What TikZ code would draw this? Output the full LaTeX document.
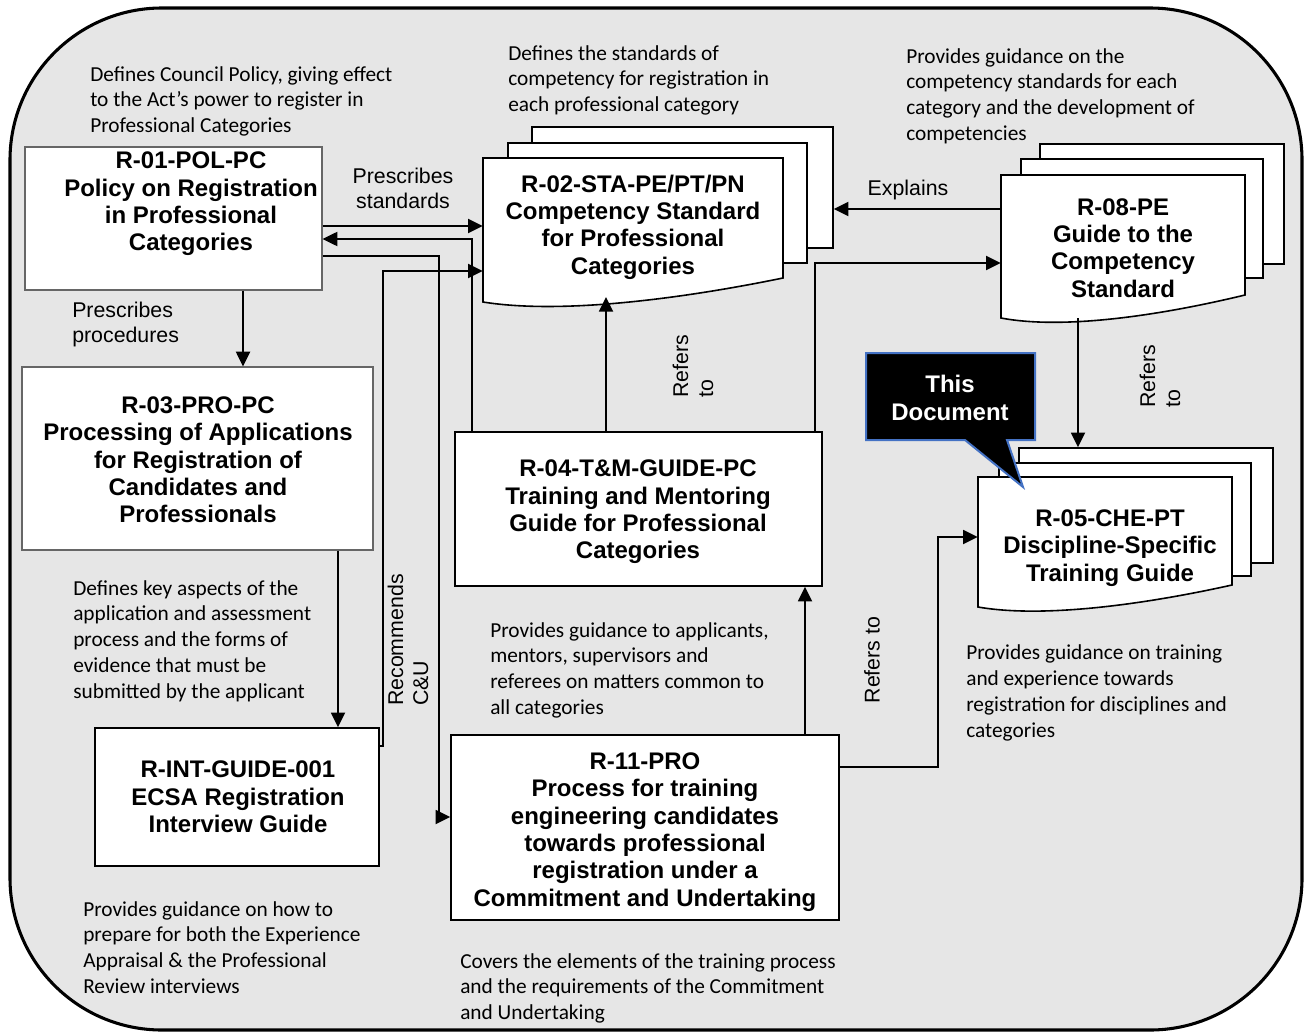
\documentclass[tikz,border=0pt]{standalone}
\usepackage{fontspec}
\setmainfont{Liberation Sans}
\newfontfamily\descfont{Carlito}
\usetikzlibrary{arrows.meta,fit,calc}
\definecolor{bggray}{RGB}{230,230,230}
\definecolor{callblue}{RGB}{68,114,196}
\tikzset{
  desc/.style={font=\descfont\fontsize{16}{19.4}\selectfont, align=left, anchor=north west, inner sep=0pt},
  lbl/.style={font=\fontsize{16}{18.75}\selectfont, inner sep=0pt},
  ttl/.style={font=\fontsize{18}{20.5}\selectfont\bfseries, align=center, inner sep=0pt},
  box/.style={draw=black, line width=1.1pt, fill=white, inner sep=0pt},
  graybox/.style={draw=black!60, line width=0.9pt, fill=white, inner sep=0pt},
  docline/.style={draw=black, line width=1.2pt, fill=white, inner sep=0pt},
  arr/.style={line width=1.4pt, -{Triangle[length=11pt,width=10.5pt]}},
}
\newcommand\mydocshape[5]{%
  \pgfmathsetmacro\mydw{#3-#1}%
  \pgfmathsetmacro\mydd{#4-#5}%
  \path[docline] (#1,#2) -- (#3,#2) -- (#3,#5) .. controls ({#3-0.343*\mydw},{#4-0.12*\mydd}) and ({#1+0.257*\mydw},{#4+0.52*\mydd}) .. (#1,#4) -- cycle;
}
\begin{document}
\begin{tikzpicture}[x=0.75pt,y=-0.75pt]
\useasboundingbox (0,0) rectangle (1308,1034);
\fill[white] (0,0) rectangle (1308,1034);
\draw[line width=2.3pt, fill=bggray, rounded corners=114pt] (10,8) rectangle (1302,1030);

% rectangle boxes
\node[graybox, fit={(25,147) (322,290)}] (r01) {};
\node[ttl] (r01t) at (191,204) {R-01-POL-PC\\Policy on Registration\\in Professional\\Categories};

\node[graybox, fit={(22,367) (373,550)}] (r03) {};
\node[ttl] (r03t) at (198,460) {R-03-PRO-PC\\Processing of Applications\\for Registration of\\Candidates and\\Professionals};

\node[box, fit={(455,432) (822,586)}] (r04) {};
\node[ttl] (r04t) at (638,512) {R-04-T\&M-GUIDE-PC\\Training and Mentoring\\Guide for Professional\\Categories};

\node[box, fit={(95,728) (379,866)}] (rint) {};
\node[ttl] (rintt) at (238,797) {R-INT-GUIDE-001\\ECSA Registration\\Interview Guide};

\node[box, fit={(451,735) (839,920)}] (r11) {};
\node[ttl] (r11t) at (645,832) {R-11-PRO\\Process for training\\engineering candidates\\towards professional\\registration under a\\Commitment and Undertaking};

% document stacks
\node[docline, fit={(532,127) (833,248)}] (r02c) {};
\node[docline, fit={(508,143) (807,263)}] (r02b) {};
\mydocshape{483}{158}{783}{302}{278}
\node[fit={(483,158) (783,302)}, inner sep=0pt] (r02) {};
\node[ttl] (r02t) at (633,227) {R-02-STA-PE/PT/PN\\Competency Standard\\for Professional\\Categories};

\node[docline, fit={(1040,144) (1284,264)}] (r08c) {};
\node[docline, fit={(1021,159) (1263,278)}] (r08b) {};
\mydocshape{1001}{175}{1245}{318}{295}
\node[fit={(1001,175) (1245,318)}, inner sep=0pt] (r08) {};
\node[ttl] (r08t) at (1123,248) {R-08-PE\\Guide to the\\Competency\\Standard};

\node[docline, fit={(1019,448) (1273,563)}] (r05c) {};
\node[docline, fit={(999,463) (1251,576)}] (r05b) {};
\mydocshape{978}{477}{1232}{607}{585}
\node[fit={(978,477) (1232,607)}, inner sep=0pt] (r05) {};
\node[ttl] (r05t) at (1110,548) {R-05-CHE-PT\\Discipline-Specific\\Training Guide};

% connectors
\draw[arr] (r01.east |- 0,226) -- (r02.west |- 0,226);
\draw[arr] (r04.north -| 472,0) |- (r01.east |- 0,239);
\draw[arr] (r01.east |- 0,256) -- (439,256) -- (439,817) -- (r11.west |- 0,817);
\draw[arr] (rint.east |- 0,746) -- (383,746) -- (383,271) -- (r02.west |- 0,271);
\draw[arr] (r01.south -| 243,0) -- (r03.north -| 243,0);
\draw[arr] (r03.south -| 338,0) -- (rint.north -| 338,0);
\draw[arr] (r04.north -| 606,0) -- (606,297);
\draw[arr] (r04.north -| 815,0) -- (815,263) -- (r08.west |- 0,263);
\draw[arr] (r08.west |- 0,209) -- (r02c.east |- 0,209);
\draw[arr] (r08.south -| 1078,0) -- (r05c.north -| 1078,0);
\draw[arr] (r11.north -| 805,0) -- (r04.south -| 805,0);
\draw[arr] (r11.east |- 0,767) -- (938,767) -- (938,537) -- (r05.west |- 0,537);

% callout
\draw[callblue, line width=1.5pt, fill=black] (866,353) -- (1035,353) -- (1035,440) -- (1007,440) -- (1023,487) -- (965,440) -- (866,440) -- cycle;
\node[ttl, text=white] (callout) at (950,398) {This\\Document};

% labels
\node[lbl, align=center] (l1) at (403,188) {Prescribes\\standards};
\node[lbl] (l2) at (908,190) {Explains};
\node[lbl, align=left, anchor=west] (l3) at (72,324) {Prescribes\\procedures};
\node[lbl, align=left, rotate=90] (l4) at (693,366) {Refers\\to};
\node[lbl, align=left, rotate=90] (l5) at (1160,376) {Refers\\to};
\node[lbl, rotate=90] (l6) at (872,660) {Refers to};
\node[lbl, align=left, rotate=90] (l7) at (408,640) {Recommends\\C\&U};

% descriptions
\node[desc] (d1) at (90,66) {Defines Council Policy, giving effect\\to the Act’s power to register in\\Professional Categories};
\node[desc] (d2) at (508,45) {Defines the standards of\\competency for registration in\\each professional category};
\node[desc] (d3) at (906,48) {Provides guidance on the\\competency standards for each\\category and the development of\\competencies};
\node[desc] (d4) at (73,580) {Defines key aspects of the\\application and assessment\\process and the forms of\\evidence that must be\\submitted by the applicant};
\node[desc] (d5) at (490,622) {Provides guidance to applicants,\\mentors, supervisors and\\referees on matters common to\\all categories};
\node[desc, font=\descfont\fontsize{16}{19.7}\selectfont] (d6) at (966,644) {Provides guidance on training\\and experience towards\\registration for disciplines and\\categories};
\node[desc] (d7) at (83,901) {Provides guidance on how to\\prepare for both the Experience\\Appraisal \& the Professional\\Review interviews};
\node[desc] (d8) at (460,953) {Covers the elements of the training process\\and the requirements of the Commitment\\and Undertaking};
\end{tikzpicture}
\end{document}
